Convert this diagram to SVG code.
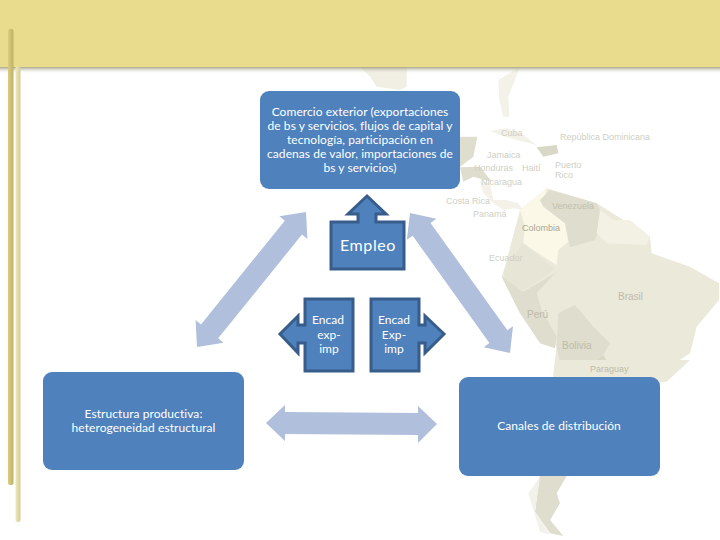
<svg xmlns="http://www.w3.org/2000/svg" width="720" height="540" viewBox="0 0 720 540">
<style>
text{font-family:Lato,"Open Sans","Liberation Sans",sans-serif}
.t{font-size:12px;fill:#fff;text-anchor:middle;letter-spacing:.07px}
.box{fill:#4f81bd}
.call{fill:#4f81bd;stroke:#385d8a;stroke-width:3}
.arr{fill:#afbfdc}
.m{font-size:9px;fill:#d0d0c4;font-family:"Liberation Sans",sans-serif}
.land{fill:#ebe9da}
.dark{fill:#dfddcd}
</style>
<defs>
<linearGradient id="sh" x1="0" y1="0" x2="0" y2="1"><stop offset="0" stop-color="#8f8a68"/><stop offset="1" stop-color="#fff" stop-opacity="0"/></linearGradient>
<linearGradient id="bar1" x1="0" y1="0" x2="1" y2="0"><stop offset="0" stop-color="#d9cd84"/><stop offset="1" stop-color="#bfb25e"/></linearGradient>
<linearGradient id="bar2" x1="0" y1="0" x2="1" y2="0"><stop offset="0" stop-color="#efe8ba"/><stop offset="1" stop-color="#d4cc96"/></linearGradient>
</defs>
<rect width="720" height="540" fill="#fff"/>
<g id="map">
<g transform="translate(260 60) scale(.33333)">
<path fill="#f1efe4" d="M300 20L440 20L440 80L420 90L350 80L330 50Z"/>
<path fill="#f3f1e8" d="M715 60L780 20L745 110L748 170L730 170L718 120Z"/>
<path class="dark" d="M600 230L652 230L640 290L600 320Z"/>
<path class="dark" d="M600 322L660 320L695 365L640 350L610 365Z"/>
<path fill="#f3f1e8" d="M690 212L740 205L790 225L830 255L770 240L720 225Z"/>
<path fill="#d9d7c5" d="M830 262L890 255L895 280L850 290Z"/>
<path fill="#f3f1e8" d="M660 365L690 370L700 420L740 420L775 430L790 450L760 445L730 450L700 430L670 400Z"/>
<path class="land" d="M725 650L735 620L780 450L860 385L1010 430L1170 530L1175 580L1290 620L1377 670L1377 720L1310 800L1290 880L1200 940L1180 1010L880 1010L880 940L890 860L780 760Z"/>
<path fill="#fbf8e8" d="M780 450L860 385L850 430L915 490L925 545L895 570L890 615L850 590L790 550L795 500Z"/>
<path class="dark" d="M840 420L870 390L1010 430L1030 470L1005 540L930 562L915 490L850 440Z"/>
<path fill="#f3f1e4" d="M1020 450L1060 480L1110 480L1170 530L1160 555L1040 550L1010 520Z"/>
<path fill="#e7e5d5" d="M735 620L790 550L850 600L885 625L840 660L790 690L730 660Z"/>
<path class="dark" d="M725 650L790 695L885 640L830 700L845 750L890 830L885 865L840 850L780 760Z"/>
<path class="dark" d="M895 760L945 735L1000 800L1050 850L1030 885L980 915L910 940L890 865Z"/>
<path fill="#d9d7c5" d="M985 915L1030 885L1060 940L990 945Z"/>
</g>
<g transform="translate(440 360) scale(.33333)">
<path class="land" d="M345 0L750 0L680 65L560 80L360 60Z"/>
<path class="dark" d="M300 340L385 340L350 400L360 430L330 480L370 528L330 520L285 455Z"/>
<path fill="#f3f2ea" d="M300 350L285 455L330 525L300 515L265 400Z"/>
</g>
<text class="m" x="560" y="140">República Dominicana</text>
<text class="m" x="501" y="136">Cuba</text>
<text class="m" x="487" y="158">Jamaica</text>
<text class="m" x="555" y="168">Puerto</text>
<text class="m" x="555" y="178">Rico</text>
<text class="m" x="474" y="171">Honduras</text>
<text class="m" x="522" y="171">Haití</text>
<text class="m" x="481" y="185">Nicaragua</text>
<text class="m" x="446" y="204">Costa Rica</text>
<text class="m" x="473" y="217">Panamá</text>
<text class="m" x="552" y="209" style="fill:#c2c0ae">Venezuela</text>
<text class="m" x="522" y="231" style="fill:#a9a792">Colombia</text>
<text class="m" x="489" y="261">Ecuador</text>
<text class="m" x="618" y="300" style="font-size:10px;fill:#bdbbaa">Brasil</text>
<text class="m" x="527" y="318" style="font-size:10px;fill:#bdbbaa">Perú</text>
<text class="m" x="562" y="349" style="font-size:10px;fill:#bdbbaa">Bolivia</text>
<text class="m" x="590" y="372" style="fill:#bdbbaa">Paraguay</text>
</g>
<g id="frame">
<rect x="0" y="66" width="720" height="8" fill="url(#sh)"/>
<rect width="720" height="67" fill="#e9dc8d"/>
<rect x="15.500" y="66" width="5" height="456" rx="2" fill="url(#bar2)"/>
<rect x="8" y="29" width="5.500" height="456" rx="2" fill="url(#bar1)"/>
</g>
<g id="connectors">
<path class="arr" d="M306 212L307.400 238.900L302 234.500L218.200 338.300L223.600 342.700L197 347L195.600 320.100L201 324.500L284.800 220.700L279.400 216.300Z"/>
<path class="arr" d="M410 213L436.300 218.800L430.500 222.900L507.400 330.300L513 326.200L510 353L483.800 347.200L489.400 343.100L412.700 235.700L406.900 239.800Z"/>
<path class="arr" d="M266 423L285 405L285 412L418 413L418 406L437 424L418 443L418 435L285 434L285 441Z"/>
</g>
<g id="comercio">
<rect class="box" x="260" y="91" width="200" height="98" rx="9"/>
<text class="t" x="360" y="116">Comercio exterior (exportaciones</text>
<text class="t" x="360" y="130">de bs y servicios, flujos de capital y</text>
<text class="t" x="360" y="144">tecnología, participación en</text>
<text class="t" x="360" y="158">cadenas de valor, importaciones de</text>
<text class="t" x="360" y="172">bs y servicios)</text>
</g>
<g id="empleo">
<path class="call" d="M331 222H358V214H348L367 196L386 214H376V222H404V269H331Z"/>
<text x="368" y="251" fill="#fff" text-anchor="middle" style="font-size:16px;letter-spacing:.6px">Empleo</text>
</g>
<g id="encad-izq">
<path class="call" d="M305 299H353V371H305V343H298V353L280 334L298 316V325H305Z"/>
<text class="t" x="328" y="324">Encad</text>
<text class="t" x="329" y="339">exp-</text>
<text class="t" x="329" y="353">imp</text>
</g>
<g id="encad-der">
<path class="call" d="M371 299H419V325H425V316L444 334L425 353V343H419V371H371Z"/>
<text class="t" x="394" y="324">Encad</text>
<text class="t" x="394" y="339">Exp-</text>
<text class="t" x="394" y="353">imp</text>
</g>
<g id="estructura">
<rect class="box" x="43" y="372" width="201" height="98" rx="9"/>
<text class="t" x="143.500" y="418">Estructura productiva:</text>
<text class="t" x="143.500" y="432">heterogeneidad estructural</text>
</g>
<g id="canales">
<rect class="box" x="459" y="377" width="201" height="99" rx="9"/>
<text class="t" x="559" y="430">Canales de distribución</text>
</g>
</svg>
